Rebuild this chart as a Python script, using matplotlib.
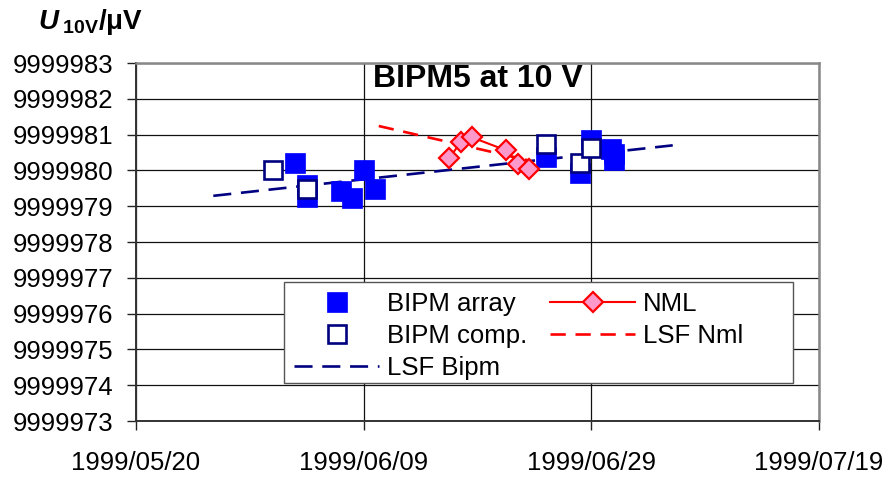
import matplotlib
matplotlib.use("Agg")
import matplotlib.pyplot as plt
import matplotlib.dates as mdates
from matplotlib.patches import Rectangle
from matplotlib.ticker import MultipleLocator, FuncFormatter
import pandas as pd

plt.rcParams['font.family'] = ['Liberation Sans', 'DejaVu Sans']
plt.rcParams['mathtext.fontset'] = 'custom'
plt.rcParams['mathtext.rm'] = 'Liberation Sans'
plt.rcParams['mathtext.it'] = 'Liberation Sans:italic:bold'
plt.rcParams['mathtext.bf'] = 'Liberation Sans:bold'
plt.rcParams['lines.scale_dashes'] = False

# ---- data ----
array_dates = ['1999-06-03 00:00', '1999-06-04 00:00', '1999-06-04 00:00',
               '1999-06-07 00:00', '1999-06-08 00:00', '1999-06-09 00:00',
               '1999-06-10 00:00', '1999-06-25 00:00', '1999-06-28 00:00',
               '1999-06-29 00:00', '1999-06-30 18:00', '1999-07-01 00:30',
               '1999-07-01 00:30']
array_vals = [9999980.21, 9999979.59, 9999979.26, 9999979.42, 9999979.22,
              9999980.00, 9999979.47, 9999980.37, 9999979.94, 9999980.86,
              9999980.61, 9999980.47, 9999980.28]

comp_dates = ['1999-06-01', '1999-06-04', '1999-06-25', '1999-06-28', '1999-06-29']
comp_vals = [9999980.00, 9999979.49, 9999980.74, 9999980.20, 9999980.62]

nml_dates = ['1999-06-16 13:00', '1999-06-17 13:00', '1999-06-18 13:00',
             '1999-06-21 12:45', '1999-06-22 14:00', '1999-06-23 12:00']
nml_vals = [9999980.35, 9999980.79, 9999980.92, 9999980.56, 9999980.19, 9999980.03]

lsf_bipm_dates = ['1999-05-26 19:00', '1999-07-06 04:00']
lsf_bipm_vals = [9999979.29, 9999980.70]

lsf_nml_dates = ['1999-06-10 08:00', '1999-06-23 12:00']
lsf_nml_vals = [9999981.24, 9999980.28]

x_ticks = ['1999-05-20', '1999-06-09', '1999-06-29', '1999-07-19']
y_min, y_max = 9999973, 9999983

to_dt = pd.to_datetime

fig = plt.figure(figsize=(8.89, 4.78), dpi=100)
ax = fig.add_axes([0.153, 0.1192, 0.768, 0.749])

# fit lines (behind the markers)
ax.plot(to_dt(lsf_nml_dates), lsf_nml_vals, color='#FF0000', lw=1.9,
        dashes=(11, 7), zorder=2, label='LSF Nml')
ax.plot(to_dt(lsf_bipm_dates), lsf_bipm_vals, color='#000080', lw=1.9,
        dashes=(13, 7), zorder=2, label='LSF Bipm')

ax.plot(to_dt(array_dates), array_vals, ls='none', marker='s', ms=14.4,
        mfc='#0000FF', mec='#0000FF', mew=0.5, zorder=3, label='BIPM array')
ax.plot(to_dt(comp_dates), comp_vals, ls='none', marker='s', ms=13,
        mfc='white', mec='#000080', mew=1.9, zorder=4, label='BIPM comp.')
ax.plot(to_dt(nml_dates), nml_vals, color='#FF0000', lw=1.5, marker='D',
        ms=10.5, mfc='#FF99CC', mec='#FF0000', mew=1.6, zorder=5, label='NML')

ax.set_xlim(to_dt(x_ticks[0]), to_dt(x_ticks[-1]))
ax.set_ylim(y_min, y_max)
ax.set_xticks(to_dt(x_ticks))
ax.xaxis.set_major_formatter(mdates.DateFormatter('%Y/%m/%d'))
ax.yaxis.set_major_locator(MultipleLocator(1))
ax.yaxis.set_major_formatter(FuncFormatter(lambda v, p: '%d' % round(v)))

ax.grid(True, color='#111111', lw=0.9, zorder=1)
ax.set_axisbelow(True)
ax.tick_params(axis='both', direction='out', length=6.5, width=1, labelsize=18.5,
               color='#222222')
ax.tick_params(axis='x', pad=15)
ax.tick_params(axis='y', pad=10)
for s in ['left', 'bottom']:
    ax.spines[s].set_color('#333333')
    ax.spines[s].set_linewidth(1.4)
for s in ['top', 'right']:
    ax.spines[s].set_color('#888888')
    ax.spines[s].set_linewidth(1.8)

ax.text(0.5, 0.955, 'BIPM5 at 10 V', transform=ax.transAxes, ha='center',
        va='center', fontsize=23, fontweight='bold', zorder=6)

fig.text(0.043, 0.955, r'$\mathit{U}_{\mathbf{\;10V}}\mathbf{/μV}$',
         fontsize=20, ha='left', va='center')

# legend box is wider than its contents in the original, so draw the frame
# as a separate patch and put a frameless legend on top of it
ax.add_patch(Rectangle((0.2167, 0.106), 0.745, 0.282, transform=ax.transAxes,
                       facecolor='white', edgecolor='#555555', lw=1.0,
                       zorder=6.5))

h, l = ax.get_legend_handles_labels()
order = ['BIPM array', 'BIPM comp.', 'LSF Bipm', 'NML', 'LSF Nml']
handles = [h[l.index(k)] for k in order]
leg = ax.legend(handles, order, ncol=2, loc='upper left',
                bbox_to_anchor=(0.2167, 0.388), fontsize=18.5, frameon=False,
                handlelength=3.3, handletextpad=0.3, columnspacing=0.9,
                borderpad=0.4, labelspacing=0.3, borderaxespad=0)
leg.set_zorder(7)

fig.savefig('out.png', dpi=100)
